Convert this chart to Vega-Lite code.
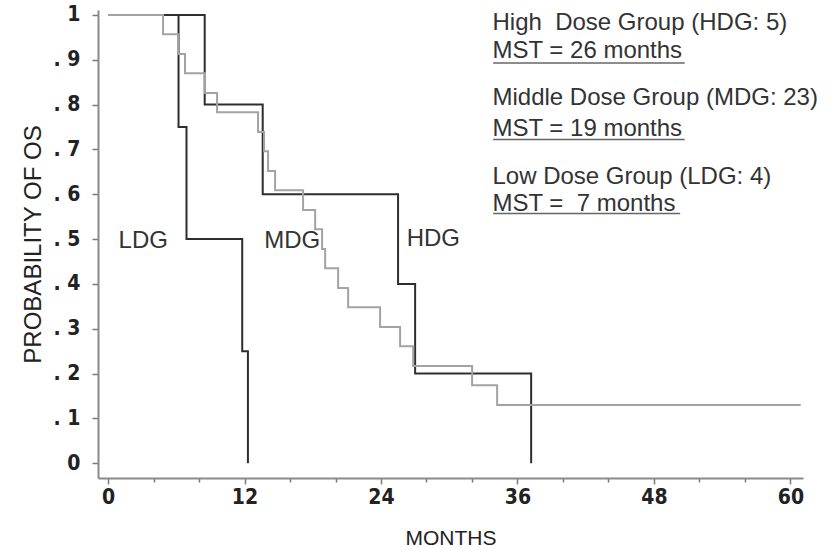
{
  "$schema": "https://vega.github.io/schema/vega-lite/v6.json",
  "width": 705,
  "height": 468,
  "autosize": {"type": "none"},
  "padding": {"left": 98, "top": 10, "right": 29, "bottom": 72},
  "background": "white",
  "config": {
    "view": {"stroke": null},
    "axis": {
      "grid": false,
      "domainColor": "#8a8a8a",
      "domainWidth": 2,
      "tickColor": "#7a7a7a",
      "tickWidth": 1.5,
      "labelFont": "Liberation Sans Narrow, DejaVu Sans Condensed, Liberation Sans",
      "labelFontWeight": "bold",
      "labelFontSize": 21,
      "labelColor": "#222222",
      "titleFont": "Liberation Sans",
      "titleFontWeight": "normal",
      "titleFontSize": 21,
      "titleColor": "#222222"
    }
  },
  "datasets": {
    "curves": [
      {"group": "LDG", "month": 0, "surv": 1},
      {"group": "LDG", "month": 6.2, "surv": 0.75},
      {"group": "LDG", "month": 6.9, "surv": 0.5},
      {"group": "LDG", "month": 11.8, "surv": 0.25},
      {"group": "LDG", "month": 12.3, "surv": 0},
      {"group": "HDG", "month": 0, "surv": 1},
      {"group": "HDG", "month": 8.5, "surv": 0.8},
      {"group": "HDG", "month": 13.6, "surv": 0.6},
      {"group": "HDG", "month": 25.5, "surv": 0.4},
      {"group": "HDG", "month": 27.0, "surv": 0.2},
      {"group": "HDG", "month": 37.2, "surv": 0},
      {"group": "MDG", "month": 0, "surv": 1},
      {"group": "MDG", "month": 4.84, "surv": 0.957},
      {"group": "MDG", "month": 6.16, "surv": 0.913},
      {"group": "MDG", "month": 6.77, "surv": 0.870},
      {"group": "MDG", "month": 8.53, "surv": 0.826},
      {"group": "MDG", "month": 9.59, "surv": 0.783},
      {"group": "MDG", "month": 13.19, "surv": 0.739},
      {"group": "MDG", "month": 13.72, "surv": 0.696},
      {"group": "MDG", "month": 14.07, "surv": 0.652},
      {"group": "MDG", "month": 14.69, "surv": 0.609},
      {"group": "MDG", "month": 17.15, "surv": 0.565},
      {"group": "MDG", "month": 18.21, "surv": 0.522},
      {"group": "MDG", "month": 18.82, "surv": 0.478},
      {"group": "MDG", "month": 19.09, "surv": 0.435},
      {"group": "MDG", "month": 20.23, "surv": 0.391},
      {"group": "MDG", "month": 21.11, "surv": 0.348},
      {"group": "MDG", "month": 23.92, "surv": 0.304},
      {"group": "MDG", "month": 25.68, "surv": 0.261},
      {"group": "MDG", "month": 26.83, "surv": 0.217},
      {"group": "MDG", "month": 32.01, "surv": 0.174},
      {"group": "MDG", "month": 34.21, "surv": 0.130},
      {"group": "MDG", "month": 60.9, "surv": 0.130}
    ],
    "curveLabels": [
      {"label": "LDG", "month": 3.1, "surv": 0.496},
      {"label": "MDG", "month": 16.2, "surv": 0.496},
      {"label": "HDG", "month": 28.6, "surv": 0.5}
    ],
    "notes": [
      {"label": "High\u00a0 Dose Group (HDG: 5)", "month": 33.8, "surv": 0.982},
      {"label": "MST = 26 months", "month": 33.8, "surv": 0.92},
      {"label": "Middle Dose Group (MDG: 23)", "month": 33.8, "surv": 0.815},
      {"label": "MST = 19 months", "month": 33.8, "surv": 0.746},
      {"label": "Low Dose Group (LDG: 4)", "month": 33.8, "surv": 0.638},
      {"label": "MST =\u00a0 7 months", "month": 33.8, "surv": 0.578}
    ],
    "underlines": [
      {"month": 33.86, "month2": 50.7, "surv": 0.893},
      {"month": 33.86, "month2": 50.7, "surv": 0.722},
      {"month": 33.86, "month2": 50.3, "surv": 0.557}
    ]
  },
  "layer": [
    {
      "data": {"name": "curves"},
      "transform": [{"filter": "datum.group != 'MDG'"}],
      "mark": {"type": "line", "interpolate": "step-after", "color": "#2e2e2e", "strokeWidth": 2},
      "encoding": {
        "x": {
          "field": "month", "type": "quantitative",
          "scale": {"domain": [-0.88, 61.1], "nice": false, "zero": false},
          "axis": {
            "title": "MONTHS",
            "values": [0,2,4,6,8,10,12,14,16,18,20,22,24,26,28,30,32,34,36,38,40,42,44,46,48,50,52,54,56,58,60],
            "labelExpr": "datum.value % 12 == 0 ? datum.value : ''",
            "tickSize": {"condition": {"test": "datum.value % 12 == 0", "value": 6}, "value": 4},
            "labelPadding": 2,
            "titlePadding": 20
          }
        },
        "y": {
          "field": "surv", "type": "quantitative",
          "scale": {"domain": [-0.033, 1.011], "nice": false, "zero": false},
          "axis": {
            "title": "PROBABILITY OF OS",
            "titleFontSize": 24,
            "values": [0,0.05,0.1,0.15,0.2,0.25,0.3,0.35,0.4,0.45,0.5,0.55,0.6,0.65,0.7,0.75,0.8,0.85,0.9,0.95,1],
            "labelExpr": "datum.value == 1 ? '1' : datum.value == 0 ? '0' : (round(datum.value*100) % 10 == 0 ? '. ' + round(datum.value*10) : '')",
            "tickSize": {"condition": {"test": "round(datum.value*100) % 10 == 0", "value": 6}, "value": 4},
            "labelPadding": 12,
            "titlePadding": 8
          }
        },
        "detail": {"field": "group"}
      }
    },
    {
      "data": {"name": "curves"},
      "transform": [{"filter": "datum.group == 'MDG'"}],
      "mark": {"type": "line", "interpolate": "step-after", "color": "#a3a3a3", "strokeWidth": 2},
      "encoding": {
        "x": {"field": "month", "type": "quantitative"},
        "y": {"field": "surv", "type": "quantitative"}
      }
    },
    {
      "data": {"name": "curveLabels"},
      "mark": {"type": "text", "font": "Liberation Sans", "fontSize": 24, "color": "#333333", "align": "center", "baseline": "middle"},
      "encoding": {
        "x": {"field": "month", "type": "quantitative"},
        "y": {"field": "surv", "type": "quantitative"},
        "text": {"field": "label"}
      }
    },
    {
      "data": {"name": "notes"},
      "mark": {"type": "text", "font": "Liberation Sans", "fontSize": 24, "color": "#333333", "align": "left", "baseline": "middle"},
      "encoding": {
        "x": {"field": "month", "type": "quantitative"},
        "y": {"field": "surv", "type": "quantitative"},
        "text": {"field": "label"}
      }
    },
    {
      "data": {"name": "underlines"},
      "mark": {"type": "rule", "color": "#666666", "strokeWidth": 1.5},
      "encoding": {
        "x": {"field": "month", "type": "quantitative"},
        "x2": {"field": "month2"},
        "y": {"field": "surv", "type": "quantitative"}
      }
    }
  ]
}
